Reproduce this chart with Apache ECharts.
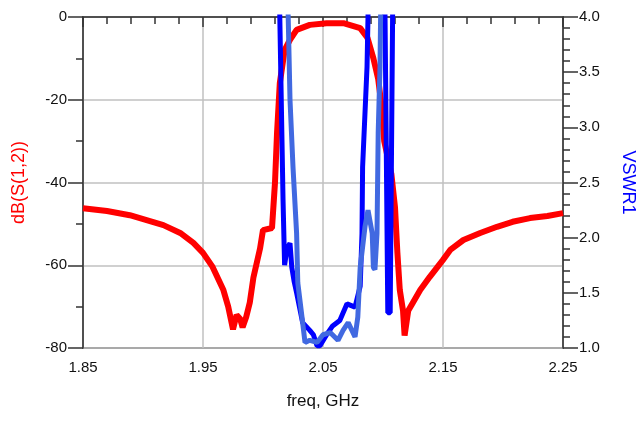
<!DOCTYPE html>
<html>
<head>
<meta charset="utf-8">
<script src="https://cdn.jsdelivr.net/npm/echarts@6/dist/echarts.min.js"></script>
<style>
  html, body { margin: 0; padding: 0; background: #fff; }
  #chart { width: 639px; height: 424px; }
</style>
</head>
<body>
<div id="chart"></div>
<script>
// x axis ticks (GHz)
var freqTicks = [1.85, 1.95, 2.05, 2.15, 2.25];

// dB(S(1,2))
var s12Freq = [1.850, 1.870, 1.889, 1.903, 1.917, 1.931, 1.942, 1.950, 1.958, 1.967, 1.971, 1.975, 1.978, 1.981, 1.983,
  1.986, 1.989, 1.992, 1.9975, 2.000, 2.0075, 2.010, 2.0117, 2.014, 2.018, 2.0225, 2.028, 2.039, 2.053, 2.067, 2.081,
  2.087, 2.092, 2.096, 2.099, 2.101, 2.107, 2.110, 2.112, 2.114, 2.1167, 2.118, 2.121, 2.125, 2.131, 2.139, 2.150,
  2.156, 2.167, 2.181, 2.195, 2.208, 2.2225, 2.237, 2.250];
var s12dB = [-46.2, -46.9, -47.9, -49.1, -50.3, -52.2, -54.6, -57.0, -60.4, -66.0, -70.0, -75.5, -72.0, -73.0, -75.0,
  -72.5, -69.0, -63.0, -56.0, -51.5, -51.0, -40.0, -28.0, -16.0, -8.0, -5.5, -3.1, -1.9, -1.5, -1.5, -2.7,
  -5.0, -10.0, -15.0, -22.0, -30.0, -38.0, -46.0, -57.0, -66.0, -71.0, -77.0, -71.0, -69.0, -66.0, -62.8, -58.7,
  -56.3, -53.9, -52.2, -50.7, -49.5, -48.6, -48.1, -47.4];

// VSWR1 (dark blue)
var vswr1Freq = [1.850, 2.0125, 2.014, 2.0167, 2.018, 2.020, 2.0225, 2.024, 2.026, 2.028, 2.033, 2.039, 2.042, 2.045,
  2.0475, 2.053, 2.058, 2.064, 2.070, 2.0767, 2.081, 2.0825, 2.083, 2.0867, 2.0875, 2.090, 2.100, 2.1017, 2.104,
  2.106, 2.108, 2.110, 2.250];
var vswr1Val = [8.0, 5.0, 4.0, 2.34, 1.75, 1.90, 1.95, 1.73, 1.60, 1.50, 1.23, 1.16, 1.12, 1.02,
  1.02, 1.12, 1.20, 1.25, 1.40, 1.37, 1.56, 2.04, 2.64, 3.55, 4.0, 6.0, 6.0, 4.0, 1.32,
  1.32, 4.0, 6.0, 8.0];

// VSWR (light blue)
var vswr2Freq = [1.850, 2.019, 2.021, 2.0225, 2.025, 2.028, 2.029, 2.0325, 2.035, 2.039, 2.045, 2.050, 2.056,
  2.0625, 2.0667, 2.071, 2.0767, 2.079, 2.081, 2.085, 2.0875, 2.091, 2.092, 2.0933, 2.095, 2.096, 2.0975, 2.098,
  2.100, 2.250];
var vswr2Val = [8.0, 5.0, 4.0, 3.25, 2.64, 2.04, 1.59, 1.28, 1.05, 1.07, 1.05, 1.12, 1.14,
  1.07, 1.16, 1.23, 1.10, 1.28, 1.73, 2.10, 2.25, 2.04, 1.73, 1.71, 2.04, 2.95, 3.55, 4.0,
  6.0, 8.0];

function pairs(xs, ys) {
  return xs.map(function (x, i) { return [x, ys[i]]; });
}

var chart = echarts.init(document.getElementById('chart'));
var font = 'Liberation Sans, Arial, sans-serif';

chart.setOption({
  animation: false,
  grid: {
    left: 83, right: 76, top: 17, bottom: 76,
    outerBoundsMode: 'none',
    show: true, borderColor: '#333', borderWidth: 1.5
  },
  xAxis: {
    type: 'value',
    min: freqTicks[0],
    max: freqTicks[freqTicks.length - 1],
    interval: 0.1,
    name: 'freq, GHz',
    nameLocation: 'middle',
    nameGap: 45,
    nameTextStyle: { fontFamily: font, fontSize: 17, color: '#111' },
    axisLine: { lineStyle: { color: '#333', width: 1.5 } },
    axisTick: { length: 10, lineStyle: { color: '#333', width: 1.5 } },
    minorTick: { show: true, splitNumber: 5, length: 7, lineStyle: { color: '#333', width: 1.5 } },
    axisLabel: {
      margin: 12, fontFamily: font, fontSize: 15, color: '#111',
      formatter: function (v) { return v.toFixed(2); }
    },
    splitLine: { show: true, lineStyle: { color: '#c0c0c0', width: 1.5 } }
  },
  yAxis: [{
    type: 'value',
    min: -80, max: 0, interval: 20,
    name: 'dB(S(1,2))',
    nameLocation: 'middle',
    nameGap: 55,
    nameTextStyle: { fontFamily: font, fontSize: 18, color: '#ff0000' },
    axisLine: { show: true, lineStyle: { color: '#333', width: 1.5 } },
    axisTick: { show: true, length: 15, lineStyle: { color: '#333', width: 1.5 } },
    minorTick: { show: true, splitNumber: 2, length: 7, lineStyle: { color: '#333', width: 1.5 } },
    axisLabel: { margin: 16, fontFamily: font, fontSize: 15, color: '#111' },
    splitLine: { show: true, lineStyle: { color: '#c0c0c0', width: 1.5 } }
  }, {
    type: 'value',
    position: 'right',
    min: 1, max: 4, interval: 0.5,
    name: 'VSWR1',
    nameLocation: 'middle',
    nameGap: 56,
    nameRotate: -90,
    nameTextStyle: { fontFamily: font, fontSize: 18, color: '#0000ff' },
    axisLine: { show: true, lineStyle: { color: '#333', width: 1.5 } },
    axisTick: { show: true, length: 15, lineStyle: { color: '#333', width: 1.5 } },
    minorTick: { show: true, splitNumber: 5, length: 7, lineStyle: { color: '#333', width: 1.5 } },
    axisLabel: {
      margin: 16, fontFamily: font, fontSize: 15, color: '#111',
      formatter: function (v) { return v.toFixed(1); }
    },
    splitLine: { show: false }
  }],
  series: [{
    name: 'dB(S(1,2))',
    type: 'line',
    showSymbol: false,
    clip: true,
    data: pairs(s12Freq, s12dB),
    lineStyle: { color: '#ff0000', width: 6 },
    itemStyle: { color: '#ff0000' }
  }, {
    name: 'VSWR1',
    type: 'line',
    yAxisIndex: 1,
    showSymbol: false,
    clip: true,
    data: pairs(vswr1Freq, vswr1Val),
    lineStyle: { color: '#0000ff', width: 5 },
    itemStyle: { color: '#0000ff' }
  }, {
    name: 'VSWR2',
    type: 'line',
    yAxisIndex: 1,
    showSymbol: false,
    clip: true,
    data: pairs(vswr2Freq, vswr2Val),
    lineStyle: { color: '#4169e1', width: 5 },
    itemStyle: { color: '#4169e1' }
  }]
});
</script>
</body>
</html>
